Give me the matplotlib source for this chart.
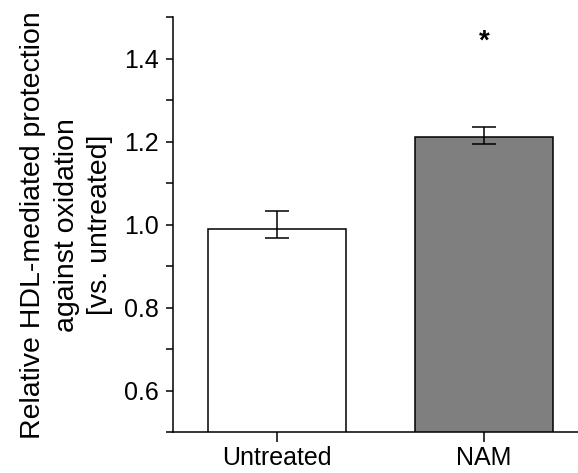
import matplotlib.pyplot as plt
from matplotlib.ticker import MultipleLocator

plt.rcParams['font.family'] = ['Liberation Sans', 'DejaVu Sans']

groups = ['Untreated', 'NAM']
means = [0.99, 1.212]
err_low = [0.021, 0.018]
err_high = [0.044, 0.024]
colors = ['white', '#7f7f7f']
star_y = 1.44

fig = plt.figure(figsize=(5.78, 4.73), dpi=100)
ax = fig.add_axes([0.2993, 0.086, 0.7007, 0.878])

x = [0, 1]
ax.bar(x, means, width=0.668, color=colors, edgecolor='black', linewidth=1.1, zorder=2)
ax.errorbar(x, means, yerr=[err_low, err_high], fmt='none', ecolor='black',
            elinewidth=1.1, capsize=8.5, capthick=1.1, zorder=3)
ax.text(1, star_y, '*', ha='center', va='center', fontsize=20, fontweight='bold')

ax.set_xlim(-0.502, 1.453)
ax.set_ylim(0.5, 1.5)
ax.yaxis.set_minor_locator(MultipleLocator(0.1))
ax.set_yticks([0.6, 0.8, 1.0, 1.2, 1.4])
ax.set_yticklabels(['0.6', '0.8', '1.0', '1.2', '1.4'])
ax.set_xticks(x)
ax.set_xticklabels(groups)

for s in ['top', 'right']:
    ax.spines[s].set_visible(False)
for s in ['left', 'bottom']:
    ax.spines[s].set_linewidth(1.1)

ax.tick_params(axis='both', which='major', labelsize=18, width=1.1)
ax.tick_params(axis='y', which='major', length=5, pad=5)
ax.tick_params(axis='x', which='major', length=7, pad=3)
ax.tick_params(axis='y', which='minor', length=5, width=1.1)

ax.set_ylabel('Relative HDL-mediated protection\nagainst oxidation\n[vs. untreated]',
              fontsize=20.5, linespacing=1.38, labelpad=8)

fig.savefig('out.png', dpi=100)
